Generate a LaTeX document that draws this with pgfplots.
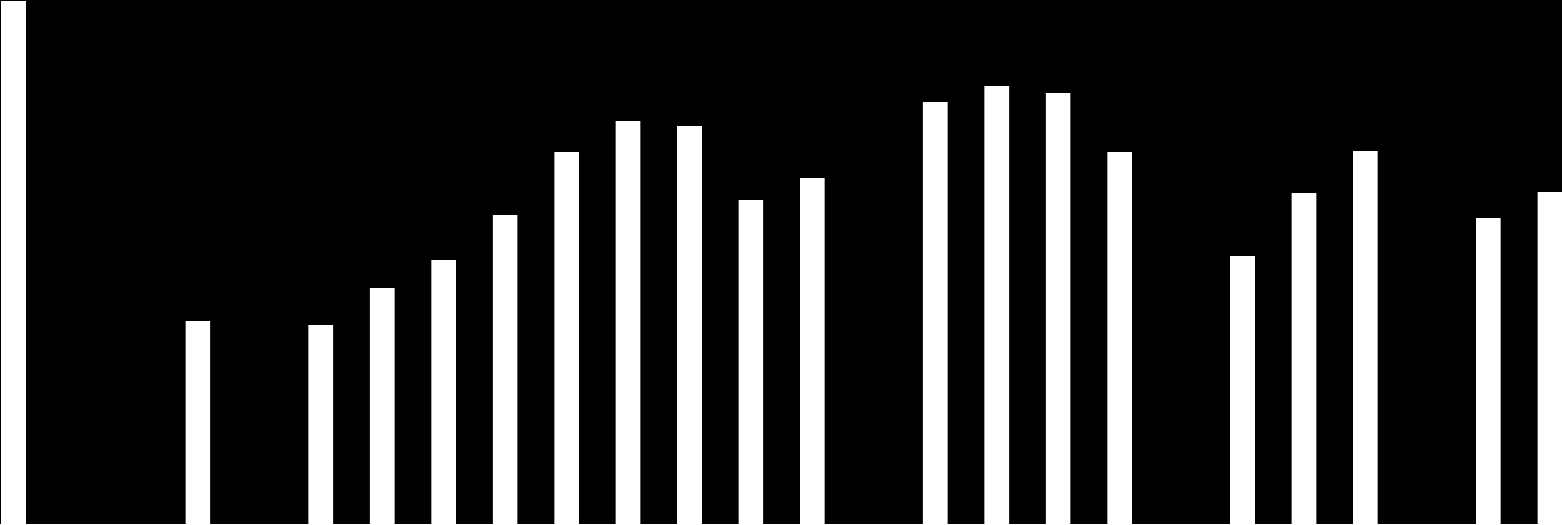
\documentclass[border=0pt]{standalone}
\usepackage{pgfplots}
\pgfplotsset{compat=1.18}
\begin{document}
\begin{tikzpicture}
\begin{axis}[
  scale only axis,
  width=15.62cm, height=5.24cm,
  xmin=-0.2197, xmax=25.199,
  ymin=0, ymax=524,
  axis line style={draw=none},
  ticks=none,
  axis background/.style={fill=black},
  clip=true,
]
\addplot[ybar, bar width=0.4, fill=white, draw=none] coordinates {
 (0,523) (1,0) (2,0) (3,203) (4,0) (5,199) (6,236) (7,264) (8,309) (9,372)
 (10,403) (11,398) (12,324) (13,346) (14,0) (15,422) (16,438) (17,431)
 (18,372) (19,0) (20,268) (21,331) (22,373) (23,0) (24,306) (25,332)
};
\end{axis}
\end{tikzpicture}
\end{document}
